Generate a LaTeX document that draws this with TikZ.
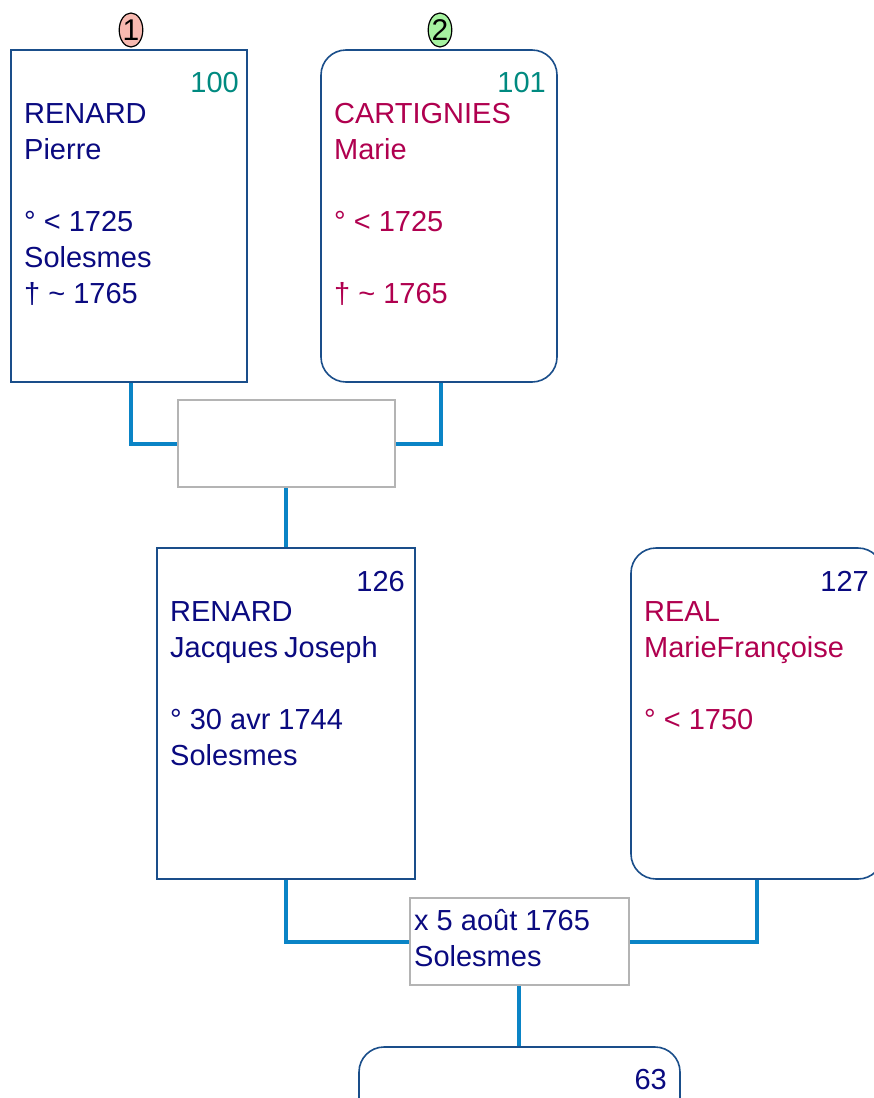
\documentclass[tikz,border=0pt]{standalone}
\usepackage{fontspec}
\setmainfont{Liberation Sans}
\usetikzlibrary{shapes.geometric,calc}
\definecolor{mnavy}{HTML}{0A0A80}
\definecolor{fcrim}{HTML}{B0004F}
\definecolor{nteal}{HTML}{008A80}
\definecolor{bordb}{HTML}{1A4E8A}
\definecolor{linkb}{HTML}{0A84C6}
\definecolor{ugray}{HTML}{B4B4B4}
\definecolor{mpink}{HTML}{F7B9B0}
\definecolor{mgreen}{HTML}{A6F2A0}
\tikzset{
  pbox/.style={draw=bordb, line width=1.6pt, fill=white, rectangle, inner sep=0pt, minimum width=#1},
  pbox/.default=236pt,
  fbox/.style={pbox=#1, rounded corners=25pt},
  fbox/.default=236pt,
  ubox/.style={draw=ugray, line width=2pt, fill=white, rectangle, inner sep=0pt, minimum height=87pt},
  link/.style={draw=linkb, line width=4pt},
  txt/.style={anchor=base west, inner sep=0pt, font=\fontsize{29}{36}\selectfont},
  num/.style={anchor=base east, inner sep=0pt, font=\fontsize{29}{36}\selectfont},
  marker/.style={ellipse, draw=black, line width=1.2pt, minimum width=20pt, minimum height=34pt, inner sep=0pt, font=\fontsize{30}{30}\selectfont}
}
\begin{document}
\begin{tikzpicture}[x=1pt,y=-1pt]
\useasboundingbox (0,0) rectangle (874,1098);
\clip (0,0) rectangle (874,1098);
% boxes
\node[pbox, minimum height=332pt] (p100) at (129,216) {};
\node[fbox, minimum height=332pt] (p101) at (439,216) {};
\node[ubox, minimum width=217pt] (u1) at (286,443.5) {};
\node[pbox=258pt, minimum height=331pt] (p126) at (286,713.5) {};
\node[fbox=252pt, minimum height=331pt] (p127) at (757,713.5) {};
\node[ubox, minimum width=219pt] (u2) at (519,941.5) {};
\node[fbox=321pt, minimum height=332pt] (p63) at (519.5,1213) {};
% markers
\node[marker, fill=mpink] (m1) at (131,30) {1};
\node[marker, fill=mgreen] (m2) at (440,30) {2};
% connectors
\draw[link] ([xshift=2pt]p100.south) |- (u1.west);
\draw[link] ([xshift=2pt]p101.south) |- (u1.east);
\draw[link] (u1.south) -- (u1.south |- p126.north);
\draw[link] (p126.south) |- (u2.west);
\draw[link] (p127.south) |- (u2.east);
\draw[link] (u2.south) -- (u2.south |- p63.north);
% texts box 100
\node[num, text=nteal] (n100) at (239,92) {100};
\node[txt, text=mnavy] (a1) at (24,123) {RENARD};
\node[txt, text=mnavy] (a2) at (24,159) {Pierre};
\node[txt, text=mnavy] (a3) at (24,231) {° < 1725};
\node[txt, text=mnavy] (a4) at (24,267) {Solesmes};
\node[txt, text=mnavy] (a5) at (24,303) {† \char"007E{} 1765};
% box 101
\node[num, text=nteal] (n101) at (546,92) {101};
\node[txt, text=fcrim] (b1) at (334,123) {CARTIGNIES};
\node[txt, text=fcrim] (b2) at (334,159) {Marie};
\node[txt, text=fcrim] (b3) at (334,231) {° < 1725};
\node[txt, text=fcrim] (b5) at (334,303) {† \char"007E{} 1765};
% box 126
\node[num, text=mnavy] (n126) at (405,591) {126};
\node[txt, text=mnavy] (c1) at (170,621) {RENARD};
\node[txt, text=mnavy] (c2) at (170,657) {Jacques\hspace{-2pt} Joseph};
\node[txt, text=mnavy] (c3) at (170,729) {° 30 avr 1744};
\node[txt, text=mnavy] (c4) at (170,765) {Solesmes};
% box 127
\node[num, text=mnavy] (n127) at (869,591) {127};
\node[txt, text=fcrim] (d1) at (644,621) {REAL};
\node[txt, text=fcrim] (d2) at (644,657) {MarieFrançoise};
\node[txt, text=fcrim] (d3) at (644,729) {° < 1750};
% union 2
\node[txt, text=mnavy] (e1) at (414,930) {x 5 août 1765};
\node[txt, text=mnavy] (e2) at (414,966) {Solesmes};
% box 63
\node[num, text=mnavy] (n63) at (667,1089) {63};
\node[txt, text=fcrim] (f1) at (372,1118) {RENARD};
\end{tikzpicture}
\end{document}
